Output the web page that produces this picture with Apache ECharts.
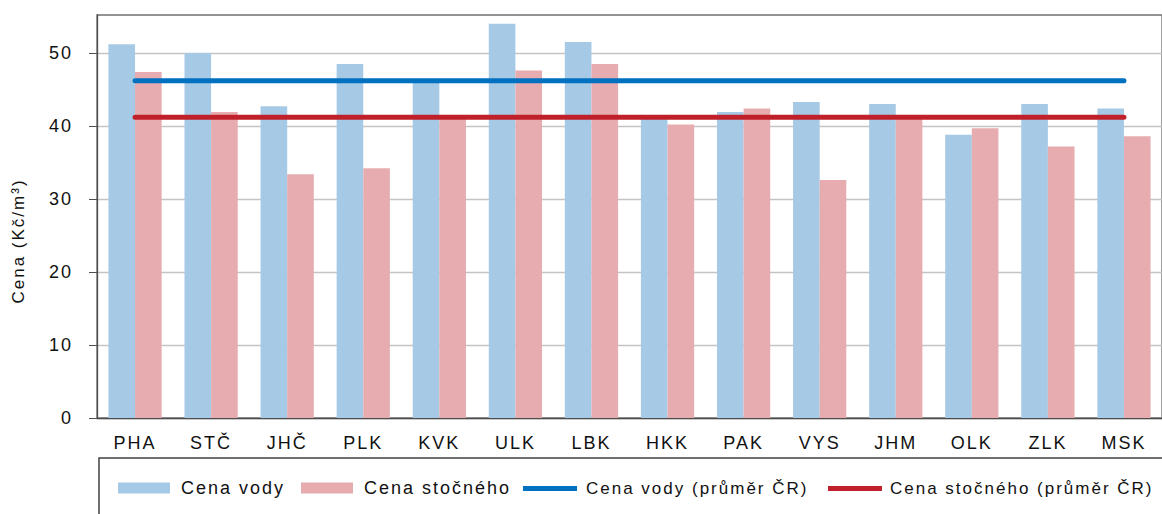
<!DOCTYPE html>
<html>
<head>
<meta charset="utf-8">
<script src="https://cdn.jsdelivr.net/npm/echarts@6/dist/echarts.min.js"></script>
<style>
  html, body { margin: 0; padding: 0; background: #fff; }
  #chart { width: 1162px; height: 514px; letter-spacing: 2px; }
</style>
</head>
<body>
<div id="chart"></div>
<script>
// kraje
const categories = ['PHA', 'STČ', 'JHČ', 'PLK', 'KVK', 'ULK', 'LBK', 'HKK', 'PAK', 'VYS', 'JHM', 'OLK', 'ZLK', 'MSK']
// Kč/m3
const cenaVody = [51.2, 50.0, 42.7, 48.5, 46.0, 54.0, 51.5, 41.0, 41.9, 43.3, 43.0, 38.8, 43.0, 42.4]
const cenaStocneho = [47.4, 41.9, 33.4, 34.2, 41.0, 47.6, 48.5, 40.2, 42.4, 32.6, 41.3, 39.7, 37.2, 38.6]
const prumerVody = 46.2
const prumerStocneho = 41.2
const yTicks = [0, 10, 20, 30, 40, 50]

const font = 'Liberation Sans, Arial, sans-serif'
const textColor = '#111'

const chart = echarts.init(document.getElementById('chart'), null, { renderer: 'svg' })

const legendBase = {
  top: 479,
  padding: 0,
  itemWidth: 52,
  itemHeight: 11,
  icon: 'rect',
  selectedMode: false,
  textStyle: { fontFamily: font, fontSize: 18, color: textColor, padding: [0, 0, 0, 6] }
}
const lineLegendText = { fontFamily: font, fontSize: 17, color: textColor, padding: [0, 0, 0, 4] }

const option = {
  animation: false,
  grid: {
    left: 97,
    right: -12,
    top: 15,
    bottom: 96,
    show: true,
    borderColor: '#707070',
    borderWidth: 1.3
  },
  legend: [
    Object.assign({}, legendBase, { left: 118, data: ['Cena vody'] }),
    Object.assign({}, legendBase, { left: 301, data: ['Cena stočného'] }),
    Object.assign({}, legendBase, { left: 523, top: 480, itemWidth: 54, itemHeight: 5, textStyle: lineLegendText, data: ['Cena vody (průměr ČR)'] }),
    Object.assign({}, legendBase, { left: 828, top: 480, itemWidth: 54, itemHeight: 5, textStyle: Object.assign({}, lineLegendText, { padding: [0, 0, 0, 3] }), data: ['Cena stočného (průměr ČR)'] })
  ],
  xAxis: {
    type: 'category',
    data: categories,
    axisTick: { show: false },
    axisLine: { lineStyle: { color: '#4d4d4d', width: 1.3 } },
    axisLabel: { fontFamily: font, fontSize: 18, color: textColor, margin: 16 }
  },
  yAxis: {
    type: 'value',
    min: 0,
    max: 55.2,
    interval: 10,
    axisLine: { show: true, lineStyle: { color: '#4d4d4d', width: 1.3 } },
    axisTick: { show: true, length: 8, customValues: yTicks, lineStyle: { color: '#4d4d4d' } },
    axisLabel: { fontFamily: font, fontSize: 18, color: textColor, margin: 24, customValues: yTicks },
    splitLine: { lineStyle: { color: '#c4c4c4', width: 1.3 } }
  },
  graphic: [
    {
      type: 'text',
      x: 18,
      y: 241,
      rotation: Math.PI / 2,
      style: {
        text: 'Cena (Kč/m³)',
        fontFamily: font,
        fontSize: 17,
        fill: textColor,
        align: 'center',
        verticalAlign: 'middle'
      }
    },
    {
      type: 'rect',
      shape: { x: 99, y: 458, width: 1100, height: 100 },
      style: { fill: 'none', stroke: '#404040', lineWidth: 1.5 }
    }
  ],
  series: [
    {
      name: 'Cena vody',
      type: 'bar',
      data: cenaVody,
      barGap: 0,
      barCategoryGap: '30%',
      itemStyle: { color: '#a6cae6' }
    },
    {
      name: 'Cena stočného',
      type: 'bar',
      data: cenaStocneho,
      itemStyle: { color: '#e6acb0' }
    },
    {
      name: 'Cena vody (průměr ČR)',
      type: 'line',
      data: categories.map(() => prumerVody),
      symbol: 'none',
      z: 5,
      lineStyle: { color: '#0070c0', width: 5, cap: 'round' },
      itemStyle: { color: '#0070c0' }
    },
    {
      name: 'Cena stočného (průměr ČR)',
      type: 'line',
      data: categories.map(() => prumerStocneho),
      symbol: 'none',
      z: 5,
      lineStyle: { color: '#c0202a', width: 5, cap: 'round' },
      itemStyle: { color: '#c0202a' }
    }
  ]
}

chart.setOption(option)
</script>
</body>
</html>
